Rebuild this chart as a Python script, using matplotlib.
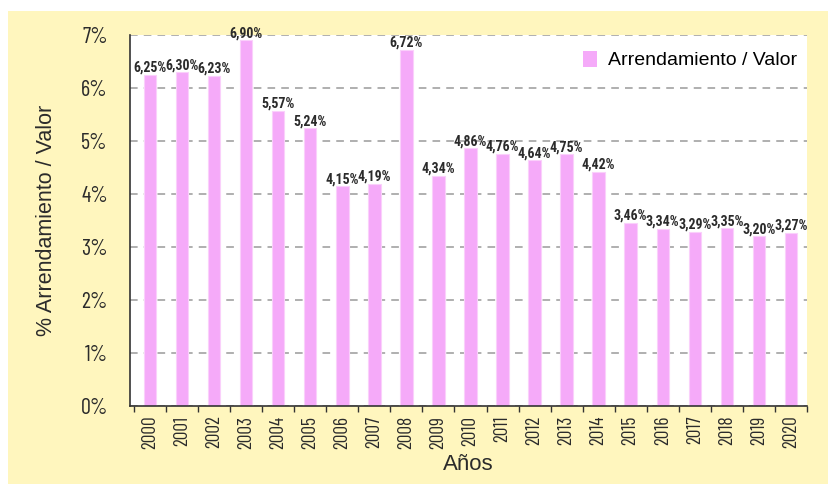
import numpy as np
import matplotlib.pyplot as plt
from matplotlib.patches import Rectangle, Patch

# data
years = [str(y) for y in range(2000, 2021)]
ratio = [6.25, 6.30, 6.23, 6.90, 5.57, 5.24, 4.15, 4.19, 6.72, 4.34, 4.86,
         4.76, 4.64, 4.75, 4.42, 3.46, 3.34, 3.29, 3.35, 3.20, 3.27]
yticks = [0, 1, 2, 3, 4, 5, 6, 7]
ylabels = [f"{t}%" for t in yticks]
bar_labels = [f"{v:.2f}%".replace(".", ",") for v in ratio]

narrow = ["Roboto Condensed", "DejaVu Sans"]
xnarrow = ["Barlow Condensed", "Roboto Condensed", "DejaVu Sans"]
regular = ["Liberation Sans", "DejaVu Sans"]
pink = "#F5AAF9"
yellow = "#FFF6BE"
txt = "#2b2b2b"

W, H = 829, 484
fig = plt.figure(figsize=(W / 100, H / 100), dpi=100, facecolor="white")
fig.patches.append(Rectangle((8 / W, 0), 1 - 8 / W, (H - 11) / H,
                             transform=fig.transFigure, facecolor=yellow,
                             edgecolor="none", zorder=-10))

ax = fig.add_axes([130 / W, (H - 406) / H, (807 - 130) / W, (406 - 35) / H])
ax.set_facecolor("white")

x = np.arange(len(years))
bars = ax.bar(x, ratio, width=0.39, color=pink, edgecolor="#FAD0FB",
              linewidth=0.8, zorder=3)
ax.bar_label(bars, labels=bar_labels, padding=0, fontsize=10,
             fontweight="bold", family=narrow, color=txt, zorder=4)

ax.set_ylim(0, 7)
ax.set_xlim(-0.5 - 4 / 32.3, len(years) - 0.5)

ax.set_yticks(yticks)
ax.set_yticklabels(ylabels, family=xnarrow, fontsize=16, color=txt)
ax.tick_params(axis="y", length=0, pad=16)

ax.set_xticks(x)
ax.set_xticklabels(years, rotation=90, family=xnarrow, fontsize=14, color=txt)
ax.set_xticks(np.arange(len(years) + 1) - 0.5, minor=True)
ax.tick_params(axis="x", which="major", length=0, pad=7)
ax.tick_params(axis="x", which="minor", length=4, width=1, color="#333333")

ax.grid(axis="y", color="#9a9a9a", linestyle=(0, (5, 4)), linewidth=1.1,
        zorder=1)
for s in ["top", "right"]:
    ax.spines[s].set_visible(False)
for s in ["left", "bottom"]:
    ax.spines[s].set_color("#333333")
    ax.spines[s].set_linewidth(1.2)
    ax.spines[s].set_zorder(5)

ax.set_ylabel("% Arrendamiento / Valor", family=regular, fontsize=15.5,
              color=txt)
ax.yaxis.set_label_coords(-0.108, 0.5)
ax.set_xlabel("Años", family=regular, fontsize=16, color=txt)
ax.xaxis.set_label_coords(0.5, -0.13)

handle = Patch(facecolor=pink, edgecolor="none")
ax.legend([handle], ["Arrendamiento / Valor"], loc="upper right",
          frameon=False, prop={"family": regular, "size": 14},
          handlelength=0.7, handleheight=0.9, handletextpad=0.6,
          bbox_to_anchor=(1.0 + 6 / 677, 1.0), borderaxespad=0.4)

fig.savefig("out.png", dpi=100, facecolor=fig.get_facecolor())
